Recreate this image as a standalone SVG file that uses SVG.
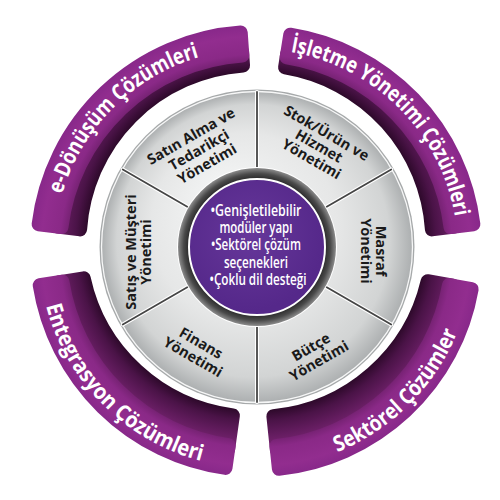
<svg xmlns="http://www.w3.org/2000/svg" width="500" height="500" viewBox="0 0 500 500">
<defs>
<radialGradient id="faceG" gradientUnits="userSpaceOnUse" cx="256" cy="251" r="226">
<stop offset="0.82" stop-color="#6e1f6b"/>
<stop offset="0.87" stop-color="#8a2987"/>
<stop offset="0.95" stop-color="#922d8f"/>
<stop offset="1" stop-color="#88288a"/>
</radialGradient>
<radialGradient id="sideG" gradientUnits="userSpaceOnUse" cx="256" cy="241" r="200">
<stop offset="0.84" stop-color="#2a0827"/>
<stop offset="0.9" stop-color="#4a1347"/>
<stop offset="1" stop-color="#6e2069"/>
</radialGradient>
<radialGradient id="ringG" gradientUnits="userSpaceOnUse" cx="257" cy="247" r="155" fx="225" fy="195">
<stop offset="0" stop-color="#f6f7f7"/>
<stop offset="0.6" stop-color="#e6e7e7"/>
<stop offset="0.88" stop-color="#d2d4d4"/>
<stop offset="1" stop-color="#adb0b1"/>
</radialGradient>
<radialGradient id="darkRingG" gradientUnits="userSpaceOnUse" cx="257" cy="247" r="79">
<stop offset="0.84" stop-color="#1f1f1f"/>
<stop offset="0.93" stop-color="#4a4a4a"/>
<stop offset="1" stop-color="#8c8c8c"/>
</radialGradient>
<radialGradient id="purpleG" gradientUnits="userSpaceOnUse" cx="250" cy="235" r="75">
<stop offset="0" stop-color="#66379a"/>
<stop offset="1" stop-color="#55288a"/>
</radialGradient>
<path id="tpEdon" d="M54,251 A202,202 0 0 1 256,49"/>
<path id="tpIsl" d="M256,49 A202,202 0 0 1 458,251"/>
<path id="tpSek" d="M256,468 A217,217 0 0 0 473,251"/>
<path id="tpEnt" d="M39,251 A217,217 0 0 0 256,468"/>
</defs>
<style>
.side{fill:url(#sideG);stroke:url(#sideG);stroke-width:14;stroke-linejoin:round}
.face{fill:url(#faceG);stroke:url(#faceG);stroke-width:14;stroke-linejoin:round}
.bt{font-family:"Open Sans","Liberation Sans",sans-serif;font-weight:700;font-size:22px;fill:#ffffff}
.seg{fill:url(#ringG)}
.st{font-family:"Open Sans","Liberation Sans",sans-serif;font-weight:700;font-size:14.5px;fill:#1a1a1a;text-anchor:middle}
.ct{font-family:"Open Sans","Liberation Sans",sans-serif;font-weight:600;font-size:16px;fill:#ffffff;text-anchor:middle}
.dv{stroke-linecap:round}
</style>
<rect width="500" height="500" fill="#ffffff"/>

<g id="band-edonusum">
<path class="side" d="M57.49,226.63 A200,200 0 0 1 242.05,51.49 L243.03,65.47 A176,176 0 0 0 80.10,229.40 Z"/>
<path class="face" d="M38.63,224.31 A219,219 0 0 1 240.72,32.53 L242.33,55.48 A196,196 0 0 0 61.46,227.11 Z"/>
<text class="bt"><textPath href="#tpEdon" startOffset="50%" text-anchor="middle" textLength="202" lengthAdjust="spacingAndGlyphs">e-Dönüşüm Çözümleri</textPath></text>
</g>

<g id="band-isletme">
<path class="side" d="M287.29,53.46 A200,200 0 0 1 454.51,226.63 L431.90,229.40 A176,176 0 0 0 285.08,67.41 Z"/>
<path class="face" d="M290.26,34.70 A219,219 0 0 1 473.37,224.31 L450.54,227.11 A196,196 0 0 0 286.66,57.41 Z"/>
<text class="bt"><textPath href="#tpIsl" startOffset="50%" text-anchor="middle" textLength="248" lengthAdjust="spacingAndGlyphs">İşletme Yönetimi Çözümleri</textPath></text>
</g>

<g id="band-sektorel">
<path class="side" d="M452.96,285.73 A200,200 0 0 1 276.91,449.90 L273.36,416.14 A176,176 0 0 0 427.61,281.26 Z"/>
<path class="face" d="M471.67,289.03 A219,219 0 0 1 278.89,468.80 L276.49,445.93 A196,196 0 0 0 449.02,285.04 Z"/>
<text class="bt"><textPath href="#tpSek" startOffset="50%" text-anchor="middle" textLength="174" lengthAdjust="spacingAndGlyphs">Sektörel Çözümler</textPath></text>
</g>

<g id="band-entegrasyon">
<path class="side" d="M228.17,449.05 A200,200 0 0 1 58.46,282.29 L83.71,278.29 A176,176 0 0 0 232.88,415.48 Z"/>
<path class="face" d="M225.52,467.87 A219,219 0 0 1 39.70,285.26 L62.41,281.66 A196,196 0 0 0 228.72,445.09 Z"/>
<text class="bt"><textPath href="#tpEnt" startOffset="50%" text-anchor="middle" textLength="230" lengthAdjust="spacingAndGlyphs">Entegrasyon Çözümleri</textPath></text>
</g>

<circle cx="257" cy="247" r="157.5" fill="#a6a9aa"/>

<g id="seg-stok">
<path class="seg" d="M257,92 A155,155 0 0 1 391.23,169.5 L325.42,207.5 A79,79 0 0 0 257,168 Z"/>
<text class="st" transform="translate(319,146) rotate(30)"><tspan x="0" y="-10">Stok/Ürün ve</tspan><tspan x="0" y="5">Hizmet</tspan><tspan x="0" y="20">Yönetimi</tspan></text>
</g>
<g id="seg-masraf">
<path class="seg" d="M391.23,169.5 A155,155 0 0 1 391.23,324.5 L325.42,286.5 A79,79 0 0 0 325.42,207.5 Z"/>
<text class="st" transform="translate(373,251) rotate(90)"><tspan x="0" y="-2.5">Masraf</tspan><tspan x="0" y="12.5">Yönetimi</tspan></text>
</g>
<g id="seg-butce">
<path class="seg" d="M391.23,324.5 A155,155 0 0 1 257,402 L257,326 A79,79 0 0 0 325.42,286.5 Z"/>
<text class="st" transform="translate(315,354) rotate(-30)"><tspan x="0" y="-3">Bütçe</tspan><tspan x="0" y="13">Yönetimi</tspan></text>
</g>
<g id="seg-finans">
<path class="seg" d="M257,402 A155,155 0 0 1 122.77,324.5 L188.58,286.5 A79,79 0 0 0 257,326 Z"/>
<text class="st" transform="translate(197,350) rotate(30)"><tspan x="0" y="-3">Finans</tspan><tspan x="0" y="13">Yönetimi</tspan></text>
</g>
<g id="seg-satis">
<path class="seg" d="M122.77,324.5 A155,155 0 0 1 122.77,169.5 L188.58,207.5 A79,79 0 0 0 188.58,286.5 Z"/>
<text class="st" transform="translate(138,252) rotate(-90)"><tspan x="0" y="-2.5">Satış ve Müşteri</tspan><tspan x="0" y="12.5">Yönetimi</tspan></text>
</g>
<g id="seg-satinalma">
<path class="seg" d="M122.77,169.5 A155,155 0 0 1 257,92 L257,168 A79,79 0 0 0 188.58,207.5 Z"/>
<text class="st" transform="translate(199,150) rotate(-30)"><tspan x="0" y="-11">Satın Alma ve</tspan><tspan x="0" y="5">Tedarikçi</tspan><tspan x="0" y="21">Yönetimi</tspan></text>
</g>

<circle cx="257" cy="247" r="155.5" fill="none" stroke="#ffffff" stroke-width="1.3" opacity="0.9"/>

<g id="dividers" class="dv">
<g stroke="#ffffff" stroke-width="4">
<line x1="257" y1="168" x2="257" y2="92"/>
<line x1="325.42" y1="207.5" x2="391.23" y2="169.5"/>
<line x1="325.42" y1="286.5" x2="391.23" y2="324.5"/>
<line x1="257" y1="326" x2="257" y2="402"/>
<line x1="188.58" y1="286.5" x2="122.77" y2="324.5"/>
<line x1="188.58" y1="207.5" x2="122.77" y2="169.5"/>
</g>
<g stroke="#454545" stroke-width="1.8">
<line x1="257" y1="168" x2="257" y2="92"/>
<line x1="325.42" y1="207.5" x2="391.23" y2="169.5"/>
<line x1="325.42" y1="286.5" x2="391.23" y2="324.5"/>
<line x1="257" y1="326" x2="257" y2="402"/>
<line x1="188.58" y1="286.5" x2="122.77" y2="324.5"/>
<line x1="188.58" y1="207.5" x2="122.77" y2="169.5"/>
</g>
</g>

<g id="center">
<circle cx="257" cy="247" r="80" fill="#ffffff"/>
<circle cx="257" cy="247" r="79" fill="url(#darkRingG)"/>
<circle cx="257" cy="247" r="68" fill="url(#purpleG)" stroke="#ffffff" stroke-width="2"/>
<text class="ct">
<tspan x="258" y="216" textLength="91" lengthAdjust="spacingAndGlyphs">•Genişletilebilir</tspan>
<tspan x="258" y="233" textLength="73" lengthAdjust="spacingAndGlyphs">modüler yapı</tspan>
<tspan x="258" y="250" textLength="90" lengthAdjust="spacingAndGlyphs">•Sektörel çözüm</tspan>
<tspan x="258" y="268" textLength="64" lengthAdjust="spacingAndGlyphs">seçenekleri</tspan>
<tspan x="258" y="285" textLength="97" lengthAdjust="spacingAndGlyphs">•Çoklu dil desteği</tspan>
</text>
</g>
</svg>
